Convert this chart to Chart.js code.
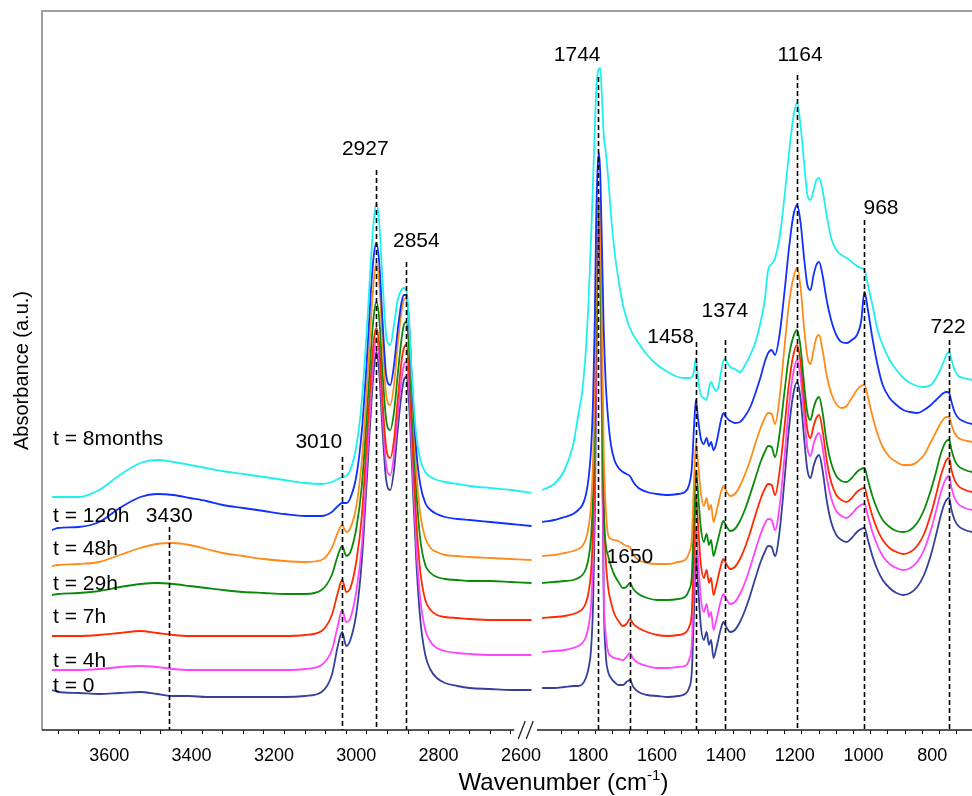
<!DOCTYPE html>
<html>
<head>
<meta charset="utf-8">
<title>FTIR spectra</title>
<script src="https://cdn.jsdelivr.net/npm/chart.js@4.4.1/dist/chart.umd.min.js"></script>
<style>
  html, body { margin: 0; padding: 0; background: #fff; }
  #wrap { width: 972px; height: 796px; }
</style>
</head>
<body>
<div id="wrap"><canvas id="ftir" width="972" height="796"></canvas></div>
<script>
// wavenumber grids (cm-1) of the two plotted windows
const WN_HIGH = [3715, 3700, 3650, 3600, 3550, 3500, 3460, 3420, 3380, 3340, 3300, 3250, 3200, 3150, 3100, 3060, 3035, 3020, 3010, 3000,
  2990, 2975, 2962, 2950, 2940, 2933, 2927, 2920, 2912, 2903, 2893, 2884, 2875, 2866, 2860, 2854, 2848, 2840, 2830, 2820,
  2808, 2795, 2780, 2760, 2730, 2700, 2650, 2600, 2550];
const WN_LOW = [1905, 1870, 1840, 1815, 1800, 1788, 1778, 1770, 1763, 1757, 1752, 1748, 1744, 1740, 1736, 1731, 1726, 1720, 1713, 1705,
  1695, 1683, 1670, 1660, 1650, 1640, 1625, 1600, 1570, 1540, 1510, 1490, 1478, 1470, 1464, 1458, 1452, 1444, 1435, 1427,
  1420, 1414, 1407, 1400, 1392, 1385, 1378, 1374, 1368, 1358, 1345, 1330, 1315, 1300, 1285, 1270, 1258, 1248, 1238, 1228,
  1215, 1200, 1188, 1176, 1164, 1154, 1143, 1134, 1125, 1116, 1108, 1100, 1090, 1078, 1065, 1050, 1035, 1020, 1005, 990,
  978, 968, 958, 945, 930, 915, 895, 875, 855, 835, 815, 795, 775, 760, 748, 738, 730, 722, 715, 706, 695, 682, 668, 655];

// absorbance (a.u., spectra stacked with offsets)
const t0High = [40, 38, 37, 36, 37, 38, 36, 34, 34, 33, 33, 33, 33, 33, 34, 38, 55, 85, 98, 84,
  90, 118, 170, 250, 320, 360, 378, 358, 300, 250, 240, 260, 300, 335, 350, 353, 330, 260, 170, 110,
  75, 60, 52, 47, 44, 42, 41, 40, 40];
const t0Low = [42, 42, 43, 44, 44, 46, 52, 62, 80, 125, 210, 340, 468, 510, 462, 300, 130, 75, 58, 52,
  48, 45, 45, 48, 50, 43, 38, 35, 34, 33, 34, 36, 42, 58, 115, 175, 145, 105, 90, 98,
  85, 90, 72, 80, 92, 102, 108, 106, 102, 98, 100, 108, 120, 135, 152, 168, 178, 184, 183, 174,
  198, 252, 300, 334, 348, 332, 290, 260, 252, 264, 272, 275, 260, 230, 208, 195, 190, 188, 192, 198,
  201, 202, 190, 174, 160, 150, 142, 137, 135, 137, 143, 155, 175, 195, 212, 224, 230, 232, 220, 210,
  204, 201, 199, 198];
const t4hHigh = [60, 60, 60, 61, 63, 64, 63, 61, 60, 60, 60, 60, 60, 60, 61, 65, 80, 105, 120, 108,
  112, 140, 185, 265, 335, 375, 392, 372, 315, 265, 255, 275, 315, 350, 365, 368, 345, 275, 185, 130,
  100, 88, 82, 79, 77, 76, 75, 75, 75];
const t4hLow = [78, 79, 80, 82, 84, 87, 93, 104, 124, 168, 250, 380, 482, 518, 468, 310, 140, 95, 78, 74,
  72, 71, 70, 73, 77, 71, 67, 64, 62, 62, 63, 64, 70, 86, 142, 203, 173, 133, 118, 126,
  113, 118, 100, 108, 120, 130, 136, 134, 130, 126, 128, 136, 148, 163, 180, 196, 206, 211, 210, 200,
  223, 275, 322, 355, 370, 353, 312, 282, 274, 286, 294, 297, 283, 253, 232, 219, 214, 212, 216, 222,
  225, 226, 214, 198, 184, 174, 166, 162, 160, 162, 168, 180, 200, 219, 235, 246, 252, 254, 242, 232,
  226, 223, 221, 220];
const t7hHigh = [94, 94, 94, 95, 97, 99, 97, 95, 94, 94, 94, 94, 94, 94, 95, 99, 115, 138, 150, 138,
  142, 170, 215, 290, 355, 390, 402, 385, 330, 282, 272, 290, 330, 368, 382, 385, 362, 295, 210, 158,
  130, 120, 115, 113, 112, 111, 110, 110, 110];
const t7hLow = [112, 113, 114, 116, 118, 121, 127, 138, 158, 202, 282, 410, 498, 523, 480, 350, 230, 170, 142, 128,
  116, 109, 104, 106, 111, 106, 102, 98, 95, 94, 95, 97, 103, 118, 175, 235, 206, 167, 152, 160,
  147, 152, 135, 143, 155, 165, 171, 169, 165, 161, 163, 171, 183, 198, 215, 231, 241, 246, 245, 235,
  258, 305, 345, 373, 385, 368, 328, 300, 292, 304, 312, 315, 300, 270, 248, 235, 230, 228, 232, 238,
  241, 242, 230, 214, 200, 190, 182, 178, 176, 178, 184, 196, 216, 235, 252, 263, 270, 272, 260, 250,
  244, 241, 239, 238];
const t29hHigh = [135, 136, 137, 139, 143, 146, 147, 146, 144, 142, 140, 138, 137, 136, 136, 140, 155, 175, 184, 174,
  178, 203, 245, 315, 380, 415, 428, 412, 358, 310, 300, 318, 355, 390, 405, 408, 385, 320, 240, 190,
  165, 157, 153, 151, 150, 149, 149, 148, 147];
const t29hLow = [147, 148, 149, 150, 152, 155, 161, 172, 192, 236, 316, 435, 508, 525, 490, 330, 220, 185, 174, 164,
  155, 148, 142, 143, 147, 141, 136, 132, 130, 130, 131, 133, 140, 154, 210, 260, 238, 203, 188, 196,
  185, 190, 174, 182, 193, 203, 209, 207, 203, 199, 201, 209, 221, 236, 252, 268, 278, 284, 283, 273,
  296, 340, 373, 392, 400, 383, 344, 317, 310, 322, 330, 333, 318, 288, 267, 254, 249, 248, 252, 258,
  261, 262, 250, 234, 220, 210, 203, 199, 198, 200, 207, 220, 240, 258, 274, 284, 289, 290, 280, 270,
  264, 261, 259, 258];
const t48hHigh = [164, 165, 166, 168, 175, 182, 186, 187, 185, 181, 177, 174, 171, 169, 168, 170, 182, 198, 205, 198,
  202, 225, 270, 340, 410, 450, 467, 448, 390, 335, 325, 345, 385, 418, 430, 432, 408, 340, 260, 215,
  192, 182, 178, 175, 174, 173, 172, 171, 170];
const t48hLow = [174, 175, 177, 179, 181, 184, 191, 203, 225, 270, 350, 460, 520, 532, 510, 400, 280, 220, 195, 191,
  190, 189, 186, 184, 183, 175, 170, 167, 166, 166, 168, 170, 177, 192, 245, 288, 268, 238, 224, 232,
  220, 225, 208, 216, 228, 238, 244, 242, 238, 234, 236, 244, 256, 270, 287, 302, 312, 317, 316, 306,
  332, 385, 425, 450, 462, 443, 400, 373, 366, 380, 392, 395, 380, 355, 337, 326, 322, 324, 332, 340,
  344, 345, 333, 314, 296, 283, 273, 268, 265, 265, 268, 275, 288, 298, 306, 311, 313, 313, 305, 297,
  292, 290, 289, 288];
const t120hHigh = [200, 202, 203, 208, 222, 233, 236, 235, 232, 229, 225, 222, 219, 216, 214, 214, 218, 224, 227, 227,
  232, 255, 300, 370, 440, 475, 487, 468, 410, 355, 345, 365, 400, 427, 435, 435, 410, 345, 280, 245,
  227, 220, 216, 213, 211, 210, 208, 206, 204];
const t120hLow = [208, 210, 213, 216, 220, 225, 235, 252, 280, 330, 410, 510, 560, 577, 555, 480, 400, 345, 310, 285,
  270, 262, 258, 256, 254, 248, 242, 238, 236, 235, 236, 238, 245, 262, 300, 330, 312, 292, 286, 292,
  284, 288, 280, 285, 298, 310, 317, 315, 312, 309, 307, 308, 314, 323, 337, 353, 368, 377, 380, 375,
  395, 440, 480, 512, 525, 508, 470, 445, 440, 455, 465, 468, 455, 430, 410, 395, 388, 387, 390, 395,
  408, 438, 420, 392, 365, 345, 332, 325, 320, 318, 317, 320, 325, 330, 334, 337, 338, 337, 328, 318,
  312, 309, 307, 306];
const t8mHigh = [233, 233, 233, 240, 255, 267, 270, 268, 265, 262, 259, 256, 253, 250, 247, 246, 248, 251, 253, 254,
  260, 285, 330, 400, 470, 510, 526, 508, 450, 395, 385, 405, 430, 440, 442, 440, 412, 350, 295, 270,
  258, 253, 250, 248, 246, 244, 242, 240, 237];
const t8mLow = [240, 246, 260, 285, 315, 340, 380, 430, 490, 550, 600, 638, 656, 661, 662, 630, 595, 578, 552, 515,
  480, 450, 425, 412, 402, 395, 387, 375, 365, 358, 353, 352, 352, 353, 358, 372, 352, 335, 332, 330,
  342, 348, 343, 339, 344, 358, 369, 371, 368, 363, 361, 358, 365, 375, 388, 408, 430, 460, 466, 472,
  492, 535, 575, 610, 627, 605, 565, 535, 530, 540, 550, 552, 540, 515, 492, 480, 475, 472, 468, 464,
  462, 460, 445, 425, 400, 385, 370, 360, 352, 347, 344, 343, 345, 352, 360, 368, 375, 378, 370, 360,
  354, 352, 351, 350];

const SERIES_LABELS = ['t = 0', 't = 4h', 't = 7h', 't = 29h', 't = 48h', 't = 120h', 't = 8months'];
const SERIES_COLORS = ['#34409a', '#ff44ff', '#ff2a00', '#0a8a0a', '#ff8c1a', '#1030ff', '#1ef0f0'];
const SERIES_HIGH = [t0High, t4hHigh, t7hHigh, t29hHigh, t48hHigh, t120hHigh, t8mHigh];
const SERIES_LOW = [t0Low, t4hLow, t7hLow, t29hLow, t48hLow, t120hLow, t8mLow];
const LABEL_BASE = [38, 63, 107, 140, 175, 208, 285];

// marked band positions, text baseline and dashed-line top (a.u.)
const PEAK_WN = [3430, 3010, 2927, 2854, 1744, 1650, 1458, 1374, 1164, 968, 722];
const PEAK_TEXT_Y = [208, 282, 575, 483, 669, 167, 387, 413, 669, 516, 397];
const PEAK_LINE_TOP = [203, 273, 560, 468, 653, 164, 388, 390, 655, 510, 390];

// x axis ticks
const TICKS_HIGH = [3700, 3650, 3600, 3550, 3500, 3450, 3400, 3350, 3300, 3250, 3200, 3150, 3100, 3050, 3000, 2950, 2900, 2850, 2800, 2750, 2700, 2650, 2600];
const TICKS_LOW = [1850, 1800, 1750, 1700, 1650, 1600, 1550, 1500, 1450, 1400, 1350, 1300, 1250, 1200, 1150, 1100, 1050, 1000, 950, 900, 850, 800, 750, 700];
const TICK_LABELS = [3600, 3400, 3200, 3000, 2800, 2600, 1800, 1600, 1400, 1200, 1000, 800];

// broken wavenumber axis: 3739..2540 on the left, 1920..655 on the right
const HIGH_START = 3739, HIGH_RATE = 0.4117;
const LOW_START = 1920, LOW_OFFSET = 495, LOW_RATE = 0.344;
const SPAN_END = 930;
const BREAK_WN = 2200;
const AXIS_STOP = 2592;

function toSpan(wn) {
  return wn >= BREAK_WN ? (HIGH_START - wn) * HIGH_RATE : LOW_OFFSET + (LOW_START - wn) * LOW_RATE;
}
function fromSpan(s) {
  return s < LOW_OFFSET ? HIGH_START - s / HIGH_RATE : LOW_START - (s - LOW_OFFSET) / LOW_RATE;
}

class BrokenAxisScale extends Chart.LinearScale {
  determineDataLimits() {
    this.min = 0;
    this.max = SPAN_END;
  }
  buildTicks() {
    return TICKS_HIGH.concat(TICKS_LOW).map(value => ({ value }));
  }
  getPixelForValue(value) {
    if (value === null || value === undefined) return NaN;
    return super.getPixelForValue(toSpan(value));
  }
  getValueForPixel(pixel) {
    return fromSpan(super.getValueForPixel(pixel));
  }
}
BrokenAxisScale.id = 'brokenAxis';
BrokenAxisScale.defaults = {};
Chart.register(BrokenAxisScale);

const FONT = '"Liberation Sans", Arial, sans-serif';

function toPoints(xs, ys) {
  return xs.map((x, i) => ({ x, y: ys[i] }));
}

const datasets = SERIES_LABELS.map((label, i) => ({
  label,
  data: toPoints(WN_HIGH, SERIES_HIGH[i]).concat([{ x: BREAK_WN, y: null }], toPoints(WN_LOW, SERIES_LOW[i])),
  borderColor: SERIES_COLORS[i],
  borderWidth: 1.8,
  pointRadius: 0,
  fill: false,
  spanGaps: false,
  cubicInterpolationMode: 'monotone',
  order: SERIES_LABELS.length - i
}));

// label placement next to each dashed line: [textAlign, dx]
const PEAK_TEXT_POS = [['center', 0], ['right', 0], ['center', -11], ['center', 10], ['right', 3], ['center', 0],
  ['right', -2], ['center', 0], ['center', 3], ['left', -1], ['center', -1]];

const overlay = {
  id: 'overlay',
  afterDatasetsDraw(chart) {
    const { ctx, chartArea: area, scales: { x, y } } = chart;
    ctx.save();

    // frame
    ctx.strokeStyle = '#a0a0a0';
    ctx.lineWidth = 2;
    ctx.beginPath();
    ctx.moveTo(area.left, area.bottom);
    ctx.lineTo(area.left, area.top);
    ctx.lineTo(area.right, area.top);
    ctx.stroke();

    // x axis line with break marks
    const stop = x.getPixelForValue(AXIS_STOP);
    const restart = x.getPixelForValue(LOW_START);
    ctx.strokeStyle = '#222';
    ctx.lineWidth = 1.3;
    ctx.beginPath();
    ctx.moveTo(area.left, area.bottom);
    ctx.lineTo(stop, area.bottom);
    ctx.moveTo(restart, area.bottom);
    ctx.lineTo(area.right, area.bottom);
    ctx.moveTo(stop + 4, area.bottom + 9);
    ctx.lineTo(stop + 11, area.bottom - 9);
    ctx.moveTo(stop + 12, area.bottom + 9);
    ctx.lineTo(stop + 19, area.bottom - 9);
    ctx.stroke();

    // dashed band markers
    ctx.strokeStyle = '#000';
    ctx.lineWidth = 1.6;
    ctx.setLineDash([5, 3]);
    PEAK_WN.forEach((wn, i) => {
      const px = Math.round(x.getPixelForValue(wn)) + 0.5;
      ctx.beginPath();
      ctx.moveTo(px, y.getPixelForValue(PEAK_LINE_TOP[i]));
      ctx.lineTo(px, area.bottom);
      ctx.stroke();
    });
    ctx.setLineDash([]);

    ctx.fillStyle = '#000';
    ctx.textBaseline = 'alphabetic';
    ctx.font = '21px ' + FONT;
    PEAK_WN.forEach((wn, i) => {
      const [align, dx] = PEAK_TEXT_POS[i];
      ctx.textAlign = align;
      ctx.fillText(String(wn), x.getPixelForValue(wn) + dx, y.getPixelForValue(PEAK_TEXT_Y[i]));
    });

    // series names
    ctx.textAlign = 'left';
    SERIES_LABELS.forEach((label, i) => {
      ctx.fillText(label, area.left + 11, y.getPixelForValue(LABEL_BASE[i]));
    });

    // x axis title with superscript
    const main = 'Wavenumber (cm';
    const sup = '-1';
    ctx.font = '24px ' + FONT;
    const w1 = ctx.measureText(main).width;
    const w3 = ctx.measureText(')').width;
    ctx.font = '15px ' + FONT;
    const w2 = ctx.measureText(sup).width;
    let tx = 563.5 - (w1 + w2 + w3) / 2;
    const ty = 790;
    ctx.font = '24px ' + FONT;
    ctx.fillText(main, tx, ty);
    tx += w1;
    ctx.font = '15px ' + FONT;
    ctx.fillText(sup, tx, ty - 10);
    tx += w2;
    ctx.font = '24px ' + FONT;
    ctx.fillText(')', tx, ty);

    ctx.restore();
  }
};

new Chart(document.getElementById('ftir').getContext('2d'), {
  type: 'line',
  data: { datasets },
  options: {
    responsive: false,
    animation: false,
    devicePixelRatio: 1,
    layout: { padding: { top: 11, left: 0, right: 0, bottom: 0 } },
    plugins: { legend: { display: false }, tooltip: { enabled: false } },
    scales: {
      x: {
        type: 'brokenAxis',
        position: 'bottom',
        border: { display: false },
        grid: { display: true, drawOnChartArea: false, drawTicks: true, tickLength: 4, color: '#000', tickColor: '#000', tickWidth: 1 },
        ticks: {
          autoSkip: false,
          maxRotation: 0,
          minRotation: 0,
          padding: 11,
          labelOffset: 10,
          color: '#000',
          font: { family: FONT, size: 18 },
          callback: value => TICK_LABELS.includes(value) ? String(value) : ''
        },
        afterFit(scale) { scale.height = 66; }
      },
      y: {
        type: 'linear',
        min: 0,
        max: 719,
        border: { display: false },
        grid: { display: false },
        ticks: { display: false },
        title: {
          display: true,
          text: 'Absorbance (a.u.)',
          color: '#000',
          font: { family: FONT, size: 20 },
          padding: { top: 10, bottom: 0 }
        },
        afterFit(scale) { scale.width = 42; }
      }
    }
  },
  plugins: [overlay]
});
</script>
</body>
</html>
